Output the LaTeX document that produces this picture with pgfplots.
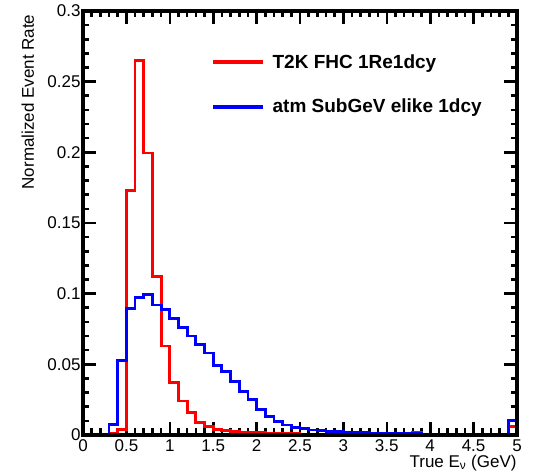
\documentclass[border=0pt]{standalone}
\usepackage{fontspec}
\setmainfont{Liberation Sans}
\usepackage{pgfplots}
\usepackage{pgfplotstable}
\pgfplotsset{compat=1.18}

% bin left edges, last row repeats the final bin to close the step
\pgfplotstableread{
x   t2k    atm
0.0 0      0
0.1 0      0
0.2 0      0
0.3 0.001  0.0075
0.4 0.004  0.0526
0.5 0.173  0.0897
0.6 0.265  0.0974
0.7 0.1995 0.0996
0.8 0.112  0.092
0.9 0.063  0.089
1.0 0.037  0.0826
1.1 0.024  0.076
1.2 0.016  0.070
1.3 0.009  0.064
1.4 0.006  0.058
1.5 0.004  0.049
1.6 0.003  0.045
1.7 0.0025 0.038
1.8 0.002  0.031
1.9 0.0018 0.025
2.0 0.0015 0.018
2.1 0.0012 0.013
2.2 0.001  0.0094
2.3 0.001  0.0071
2.4 0.0008 0.0054
2.5 0.0007 0.0045
2.6 0.0006 0.0035
2.7 0.0005 0.003
2.8 0.0005 0.0026
2.9 0.0004 0.0023
3.0 0.0004 0.002
3.1 0.0004 0.0018
3.2 0.0004 0.0016
3.3 0.0004 0.0014
3.4 0.0004 0.0012
3.5 0.0003 0.001
3.6 0.0003 0.0009
3.7 0.0003 0.0008
3.8 0.0015 0.0008
3.9 0.0003 0.0007
4.0 0.0003 0.0007
4.1 0.0005 0.0006
4.2 0.0003 0.0006
4.3 0.0003 0.0006
4.4 0.0003 0.0005
4.5 0.0003 0.0005
4.6 0.0003 0.0005
4.7 0.0003 0.0005
4.8 0.0003 0.0005
4.9 0.006  0.010
5.0 0.006  0.010
}\hist

\begin{document}
\begin{tikzpicture}
\begin{axis}[
    name=ax,
    scale only axis,
    width=434pt, height=424pt,
    xmin=0, xmax=5, ymin=0, ymax=0.3,
    xtick={0,0.5,1,1.5,2,2.5,3,3.5,4,4.5,5},
    xticklabels={0,0.5,1,1.5,2,2.5,3,3.5,4,4.5,5},
    ytick={0,0.05,0.1,0.15,0.2,0.25,0.3},
    yticklabels={0,0.05,0.1,0.15,0.2,0.25,0.3},
    minor x tick num=4,
    minor y tick num=4,
    tick align=inside,
    major tick length=13pt,
    minor tick length=6.5pt,
    every tick/.style={black, line width=2.6pt},
    tick label style={font=\fontsize{17}{17}\selectfont},
    /pgf/number format/assume math mode=true,
    xticklabel style={yshift=-1pt},
    yticklabel style={xshift=1pt},
    xlabel={True E\textsubscript{ν} (GeV)},
    xlabel style={at={(axis description cs:1.007,-0.066)}, anchor=east,
        font=\fontsize{17}{17}\selectfont},
    ylabel={Normalized Event Rate},
    ylabel style={at={(axis description cs:-0.127,1)}, anchor=east,
        font=\fontsize{17}{17}\selectfont},
    legend style={draw=none, fill=none, at={(rel axis cs:0.295,0.902)},
        anchor=north west, inner sep=0pt, row sep=25pt,
        font=\bfseries\fontsize{19}{19}\selectfont},
    legend cell align=left,
    legend image code/.code={\draw[#1, line width=4pt] (0pt,0pt) -- (50pt,0pt);
        \path (56pt,0pt);},
]
\addplot[const plot mark left, red, line width=2.8pt, no marks]
    table[x=x, y=t2k] {\hist};
\addlegendentry{T2K FHC 1Re1dcy}
\addplot[const plot mark left, blue, line width=2.8pt, no marks]
    table[x=x, y=atm] {\hist};
\addlegendentry{atm SubGeV elike 1dcy}
\end{axis}
% thick ROOT-style frame
\draw[line width=3.6pt] (ax.south west) rectangle (ax.north east);
\pgfresetboundingbox
\path ([shift={(-83pt,-41pt)}]ax.south west) rectangle ([shift={(18pt,11pt)}]ax.north east);
\end{tikzpicture}
\end{document}
